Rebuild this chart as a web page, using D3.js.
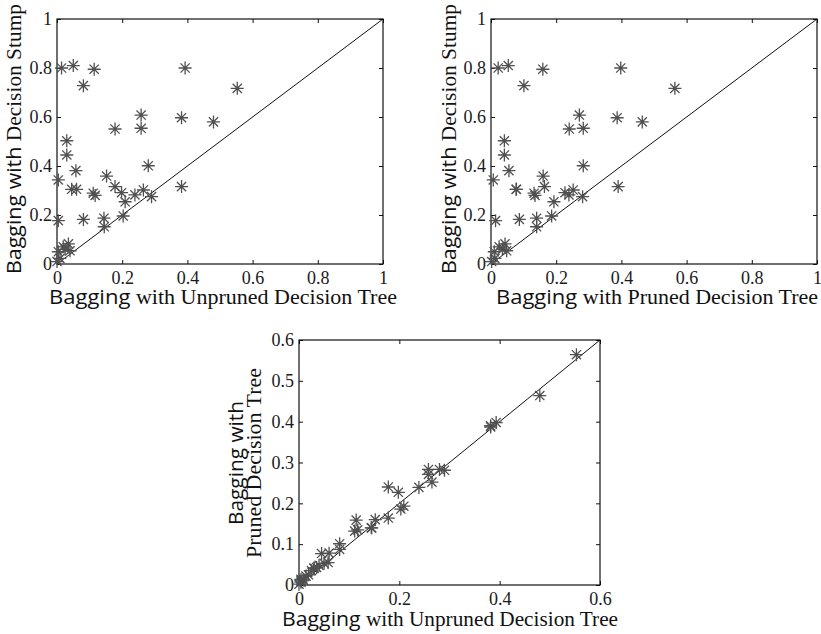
<!DOCTYPE html>
<html>
<head>
<meta charset="utf-8">
<script src="https://cdn.jsdelivr.net/npm/d3@7/dist/d3.min.js"></script>
<style>
  body { margin: 0; background: #fff; }
  svg { display: block; }
</style>
</head>
<body>
<svg width="821" height="634"></svg>
<script>
// error rates per data set, one entry per data set in all three arrays
const unpruned = [0.014, 0.050, 0.114, 0.081, 0.393, 0.553, 0.258, 0.382, 0.480, 0.178,
                  0.258, 0.030, 0.030, 0.058, 0.004, 0.280, 0.152, 0.045, 0.060, 0.111,
                  0.117, 0.178, 0.198, 0.209, 0.239, 0.265, 0.290, 0.382, 0.004, 0.081,
                  0.144, 0.145, 0.203, 0.004, 0.019, 0.035, 0.040, 0.009, 0.000, 0.025];
const pruned   = [0.022, 0.053, 0.159, 0.101, 0.398, 0.564, 0.271, 0.387, 0.464, 0.240,
                  0.283, 0.041, 0.041, 0.055, 0.007, 0.283, 0.160, 0.077, 0.078, 0.132,
                  0.135, 0.164, 0.227, 0.193, 0.239, 0.252, 0.281, 0.390, 0.014, 0.087,
                  0.140, 0.140, 0.186, 0.010, 0.025, 0.043, 0.048, 0.012, 0.002, 0.035];
const stump    = [0.800, 0.810, 0.795, 0.728, 0.800, 0.717, 0.608, 0.597, 0.580, 0.551,
                  0.554, 0.503, 0.445, 0.381, 0.343, 0.401, 0.359, 0.305, 0.305, 0.289,
                  0.280, 0.316, 0.291, 0.254, 0.282, 0.302, 0.275, 0.316, 0.177, 0.182,
                  0.187, 0.152, 0.196, 0.050, 0.070, 0.082, 0.054, 0.023, 0.010, 0.060];

const ticksFull = [0, 0.2, 0.4, 0.6, 0.8, 1];
const ticksX3 = [0, 0.2, 0.4, 0.6];
const ticksY3 = [0, 0.1, 0.2, 0.3, 0.4, 0.5, 0.6];

const svg = d3.select('svg');
const serif = '"Liberation Serif", "Times New Roman", serif';
const sans = '"Open Sans", "Noto Sans", sans-serif';

// matlab style '*' marker: a plus and a cross on top of each other
function star(r) {
  const d = r * Math.SQRT1_2;
  return `M${-r},0L${r},0M0,${-r}L0,${r}M${-d},${-d}L${d},${d}M${-d},${d}L${d},${-d}`;
}

function panel(box, xs, ys, max, xTicks, yTicks) {
  const x = d3.scaleLinear().domain([0, max]).range([box.x0, box.x1]);
  const y = d3.scaleLinear().domain([0, max]).range([box.y1, box.y0]);
  const g = svg.append('g');

  // ticks pointing inwards on all four sides
  const fmt = d => String(d);
  const axes = [
    g.append('g').attr('transform', `translate(0,${box.y1})`)
      .call(d3.axisBottom(x).tickValues(xTicks).tickFormat(fmt).tickSizeInner(-4).tickSizeOuter(0).tickPadding(7)),
    g.append('g').attr('transform', `translate(0,${box.y0})`)
      .call(d3.axisTop(x).tickValues(xTicks).tickFormat('').tickSizeInner(-4).tickSizeOuter(0)),
    g.append('g').attr('transform', `translate(${box.x0},0)`)
      .call(d3.axisLeft(y).tickValues(yTicks).tickFormat(fmt).tickSizeInner(-4).tickSizeOuter(0).tickPadding(5)),
    g.append('g').attr('transform', `translate(${box.x1},0)`)
      .call(d3.axisRight(y).tickValues(yTicks).tickFormat('').tickSizeInner(-4).tickSizeOuter(0))
  ];
  axes.forEach(a => a.attr('font-family', serif).attr('font-size', 18));

  g.selectAll('.domain').remove();
  g.selectAll('.tick line').attr('stroke', '#111');
  g.selectAll('.tick text').attr('fill', '#1a1a1a');

  g.append('rect')
    .attr('x', box.x0).attr('y', box.y0)
    .attr('width', box.x1 - box.x0).attr('height', box.y1 - box.y0)
    .attr('fill', 'none').attr('stroke', '#111').attr('stroke-width', 1.2);

  // diagonal y = x
  g.append('line')
    .attr('x1', x(0)).attr('y1', y(0))
    .attr('x2', x(max)).attr('y2', y(max))
    .attr('stroke', '#111').attr('stroke-width', 1);

  g.selectAll('path.pt').data(xs.map((v, i) => [v, ys[i]]))
    .enter().append('path')
      .attr('class', 'pt')
      .attr('d', star(6.5))
      .attr('transform', d => `translate(${x(d[0])},${y(d[1])})`)
      .attr('fill', 'none')
      .attr('stroke', '#505050')
      .attr('stroke-width', 1.3);
  return g;
}

// parts: [[text, font], ...]
function label(g, px, py, rotate, parts, len) {
  const t = g.append('text')
    .attr('transform', `translate(${px},${py})` + (rotate ? ' rotate(-90)' : ''))
    .attr('text-anchor', 'middle')
    .attr('fill', '#111')
    .attr('font-size', 20);
  parts.forEach(p => t.append('tspan').attr('font-family', p[1]).text(p[0]));
  t.attr('textLength', len).attr('lengthAdjust', 'spacingAndGlyphs');
}

const b1 = {x0: 57, x1: 383, y0: 19, y1: 264};
const b2 = {x0: 491, x1: 817, y0: 19, y1: 264};
const b3 = {x0: 299, x1: 600, y0: 340, y1: 585};

const g1 = panel(b1, unpruned, stump, 1, ticksFull, ticksFull);
label(g1, 223, 304, false, [['Bagging', sans], [' with Unpruned Decision Tree', serif]], 348);
label(g1, 21, 139, true, [['Bagging with', sans], [' Decision Stump', serif]], 270);

const g2 = panel(b2, pruned, stump, 1, ticksFull, ticksFull);
label(g2, 657, 304, false, [['Bagging', sans], [' with Pruned Decision Tree', serif]], 322);
label(g2, 456, 139, true, [['Bagging with', sans], [' Decision Stump', serif]], 270);

const g3 = panel(b3, unpruned, pruned, 0.6, ticksX3, ticksY3);
label(g3, 450, 626, false, [['Bagging', sans], [' with Unpruned Decision Tree', serif]], 336);
label(g3, 243, 463, true, [['Bagging with', sans]], 124);
label(g3, 261, 463, true, [['Pruned Decision Tree', serif]], 190);
</script>
</body>
</html>
